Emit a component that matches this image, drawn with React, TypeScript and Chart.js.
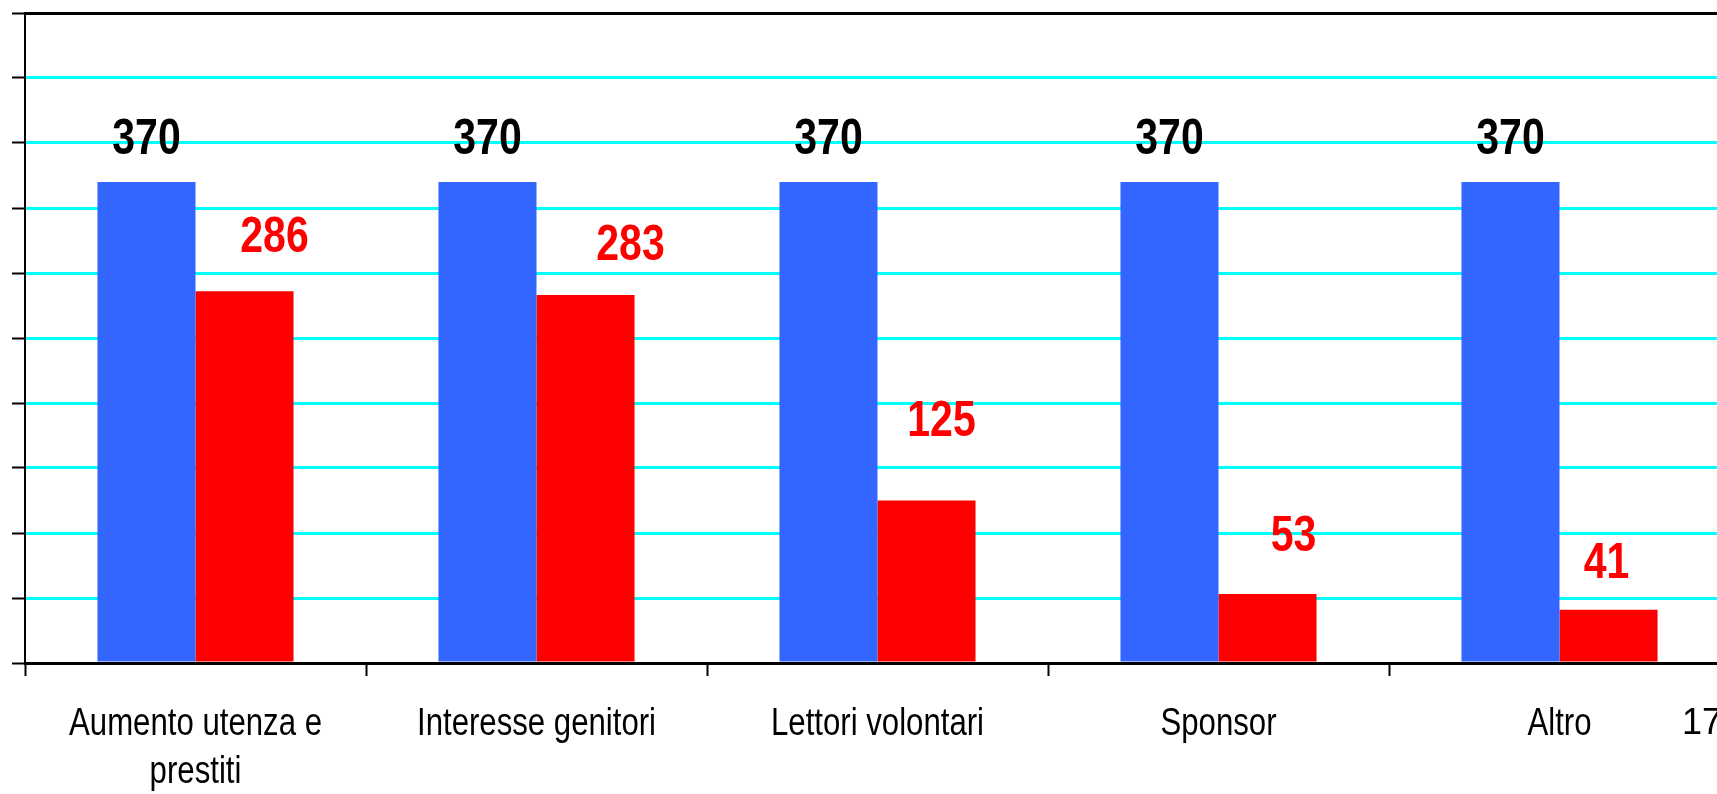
import React, { useEffect, useRef } from "react";
import { Chart, registerables } from "chart.js";

Chart.register(...registerables);

const categories: (string | string[])[] = [
  ["Aumento utenza e", "prestiti"],
  "Interesse genitori",
  "Lettori volontari",
  "Sponsor",
  "Altro",
];
const blueValues = [370, 370, 370, 370, 370];
const redValues = [286, 283, 125, 53, 41];
const yMin = 0;
const yMax = 500;
const yStep = 50;
const pageNumber = "17";

// label nudges (style only): [dx, gap above bar top]
const blueLabelNudge = [0, 28];
const redLabelNudges: [number, number][] = [
  [30, 39],
  [45, 35],
  [15, 65],
  [26, 43],
  [-2, 32],
];

const FONT = "'Liberation Sans', Arial, sans-serif";
const NARROW = 0.82; // emulate Arial Narrow by horizontal condensing
const BLUE = "#3366FF";
const RED = "#FF0000";
const CYAN = "#00FFFF";

function condensedText(ctx: CanvasRenderingContext2D, text: string, x: number, y: number) {
  ctx.save();
  ctx.translate(x, y);
  ctx.scale(NARROW, 1);
  ctx.fillText(text, 0, 0);
  ctx.restore();
}

const valueLabels = {
  id: "valueLabels",
  afterDatasetsDraw(chart: any) {
    const ctx = chart.ctx;
    ctx.save();
    ctx.font = `bold 50px ${FONT}`;
    ctx.textAlign = "center";
    ctx.textBaseline = "alphabetic";
    chart.data.datasets.forEach((ds: any, di: number) => {
      const meta = chart.getDatasetMeta(di);
      meta.data.forEach((bar: any, i: number) => {
        const v = ds.data[i];
        let dx = blueLabelNudge[0];
        let gap = blueLabelNudge[1];
        ctx.fillStyle = "#000000";
        if (di === 1) {
          dx = redLabelNudges[i][0];
          gap = redLabelNudges[i][1];
          ctx.fillStyle = RED;
        }
        condensedText(ctx, String(v), bar.x + dx, bar.y - gap);
      });
    });
    ctx.restore();
  },
  afterDraw(chart: any) {
    const ctx = chart.ctx;
    const xs = chart.scales.x;
    ctx.save();
    ctx.font = `38px ${FONT}`;
    ctx.textAlign = "center";
    ctx.textBaseline = "alphabetic";
    ctx.fillStyle = "#000000";
    chart.data.labels.forEach((lab: any, i: number) => {
      const lines = Array.isArray(lab) ? lab : [lab];
      const x = xs.getPixelForTick(i);
      lines.forEach((ln: string, li: number) => {
        condensedText(ctx, ln, x, xs.top + 72 + li * 48);
      });
    });
    ctx.restore();
  },
};

export default function App() {
  const canvasRef = useRef<HTMLCanvasElement | null>(null);

  useEffect(() => {
    if (!canvasRef.current) return;
    const chart = new Chart(canvasRef.current, {
      type: "bar",
      data: {
        labels: categories,
        datasets: [
          {
            label: "Totale",
            data: blueValues,
            backgroundColor: BLUE,
            barPercentage: 1,
            categoryPercentage: 0.575,
          },
          {
            label: "Risposte",
            data: redValues,
            backgroundColor: RED,
            barPercentage: 1,
            categoryPercentage: 0.575,
          },
        ],
      },
      options: {
        responsive: false,
        animation: false,
        devicePixelRatio: 1,
        layout: { padding: { top: 13, left: 12, right: 0, bottom: 0 } },
        plugins: {
          legend: { display: false },
          tooltip: { enabled: false },
          title: { display: false },
        },
        scales: {
          x: {
            grid: {
              drawOnChartArea: false,
              drawTicks: true,
              tickLength: 13,
              tickColor: "#000000",
              tickWidth: 2,
              offset: true,
            },
            border: { display: true, color: "#000000", width: 3 },
            ticks: {
              color: "rgba(0,0,0,0)",
              font: { family: FONT, size: 38, lineHeight: 1.2 },
              padding: 10,
              maxRotation: 0,
              minRotation: 0,
              autoSkip: false,
            },
            afterFit: (scale: any) => {
              scale.height = 131;
            },
          },
          y: {
            min: yMin,
            max: yMax,
            ticks: { stepSize: yStep, display: false },
            grid: {
              color: (c: any) => (c.tick && c.tick.value === yMax ? "#000000" : CYAN),
              lineWidth: 3,
              drawTicks: true,
              tickLength: 13,
              tickColor: "#000000",
              tickWidth: 2,
            },
            border: { display: true, color: "#000000", width: 2 },
            afterFit: (scale: any) => {
              scale.width = 13;
            },
          },
        },
      },
      plugins: [valueLabels],
    });
    return () => chart.destroy();
  }, []);

  return (
    <div
      style={{
        position: "fixed",
        left: 0,
        top: 0,
        width: 1717,
        height: 794,
        overflow: "hidden",
        background: "#ffffff",
      }}
    >
      <canvas ref={canvasRef} width={1730} height={794} style={{ display: "block" }} />
      <div
        style={{
          position: "absolute",
          left: 1682,
          top: 702,
          fontFamily: "'Liberation Sans', Arial, sans-serif",
          fontSize: 36,
          lineHeight: "40px",
          color: "#000000",
          whiteSpace: "nowrap",
        }}
      >
        {pageNumber}
      </div>
    </div>
  );
}
